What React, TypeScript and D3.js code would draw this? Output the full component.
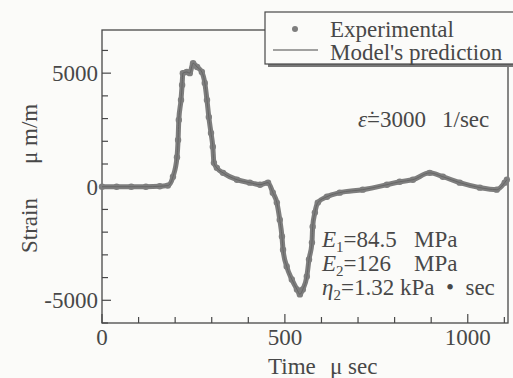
import React, { useEffect, useRef } from 'react';
import * as d3 from 'd3';

// time (μsec) / strain (μm/m)
const timeUs = [0, 40, 80, 120, 158, 180, 194, 205, 208, 210, 216, 219, 221, 232, 240, 249, 260, 273, 281, 287, 292, 298, 303, 306, 314, 331, 369, 404, 432, 454, 467, 478, 486, 492, 495, 505, 519, 533, 541, 549, 560, 566, 574, 576, 582, 590, 615, 650, 713, 779, 814, 850, 896, 932, 978, 1033, 1079, 1101, 1107];
const strain = [0, 0, 0, 0, 20, 50, 440, 1300, 2060, 2940, 3820, 4480, 5000, 5050, 5000, 5440, 5270, 5050, 4570, 3820, 3070, 2370, 1760, 1050, 830, 610, 310, 180, 90, 180, -260, -700, -1450, -2190, -2770, -3510, -4080, -4520, -4740, -4520, -3950, -3200, -2460, -1760, -1140, -700, -440, -260, -130, 90, 220, 310, 610, 440, 180, -40, -130, 180, 310];

const xTicks = d3.range(0, 1101, 100);
const xLabels = [0, 500, 1000];
const yTicks = d3.range(-6000, 6001, 1000);
const yLabels = [-5000, 0, 5000];

const W = 513;
const H = 378;
const INK = '#484848';
const CURVE = '#7e7e7e';
const FONT = "'Liberation Serif', 'Times New Roman', serif";

const App: React.FC = () => {
  const svgRef = useRef<SVGSVGElement | null>(null);

  useEffect(() => {
    if (!svgRef.current) return;
    const svg = d3.select(svgRef.current);
    svg.selectAll('*').remove();

    const x = d3.scaleLinear().domain([0, 1110]).range([102, 508]);
    const y = d3.scaleLinear().domain([-6000, 6900]).range([323, 30]);

    svg.append('rect').attr('width', W).attr('height', H).attr('fill', '#fbfbf9');

    const g = svg.append('g').style('font-family', FONT).attr('fill', INK);

    // frame
    g.append('rect')
      .attr('x', x(0)).attr('y', y(6900))
      .attr('width', x(1110) - x(0)).attr('height', y(-6000) - y(6900))
      .attr('fill', 'none').attr('stroke', INK).attr('stroke-width', 1.3);

    // ticks (inward)
    g.selectAll('.xt').data(xTicks).enter().append('line')
      .attr('x1', d => x(d)).attr('x2', d => x(d))
      .attr('y1', y(-6000)).attr('y2', d => y(-6000) - (d % 500 === 0 ? 9 : 6))
      .attr('stroke', INK).attr('stroke-width', 1.2);
    g.selectAll('.yt').data(yTicks).enter().append('line')
      .attr('y1', d => y(d)).attr('y2', d => y(d))
      .attr('x1', x(0)).attr('x2', d => x(0) + (d % 5000 === 0 ? 9 : 6))
      .attr('stroke', INK).attr('stroke-width', 1.2);

    g.selectAll('.xl').data(xLabels).enter().append('text')
      .attr('x', d => x(d)).attr('y', 345).attr('text-anchor', 'middle')
      .attr('font-size', 23).text(d => d);
    g.selectAll('.yl').data(yLabels).enter().append('text')
      .attr('x', x(0) - 4).attr('y', d => y(d) + 8).attr('text-anchor', 'end')
      .attr('font-size', 23).text(d => d);

    // axis titles
    g.append('text').attr('x', 268).attr('y', 374).attr('font-size', 23).text('Time');
    g.append('text').attr('x', 330).attr('y', 374).attr('font-size', 23).text('\u03bc sec');
    g.append('text').attr('transform', 'translate(37,253) rotate(-90)').attr('font-size', 23).text('Strain');
    g.append('text').attr('transform', 'translate(37,164) rotate(-90)').attr('font-size', 23).text('\u03bc m/m');

    // curve: experimental band + dots, model line
    const pts: [number, number][] = timeUs.map((t, i) => [t, strain[i]]);
    const line = d3.line<[number, number]>().x(d => x(d[0])).y(d => y(d[1])).curve(d3.curveMonotoneX);
    g.append('path').datum(pts).attr('d', line).attr('fill', 'none')
      .attr('stroke', CURVE).attr('stroke-width', 5).attr('stroke-linejoin', 'round');
    g.selectAll('.dot').data(pts).enter().append('circle')
      .attr('cx', d => x(d[0])).attr('cy', d => y(d[1])).attr('r', 3.2)
      .attr('fill', CURVE);
    g.append('path').datum(pts).attr('d', line).attr('fill', 'none')
      .attr('stroke', '#666').attr('stroke-width', 1);

    // annotations
    const eps = g.append('text').attr('x', 426).attr('y', 127).attr('font-size', 23)
      .attr('text-anchor', 'end');
    eps.append('tspan').attr('font-style', 'italic').text('\u03b5\u0307');
    eps.append('tspan').text('=3000');
    g.append('text').attr('x', 442).attr('y', 127).attr('font-size', 23).text('1/sec');

    const params = [
      { sym: 'E', sub: '1', rest: '=84.5   MPa', yy: 247 },
      { sym: 'E', sub: '2', rest: '=126    MPa', yy: 271 },
      { sym: '\u03b7', sub: '2', rest: '=1.32 kPa  \u2022  sec', yy: 295 },
    ];
    params.forEach(p => {
      const t = g.append('text').attr('x', 322).attr('y', p.yy).attr('font-size', 23)
        .style('white-space', 'pre');
      t.append('tspan').attr('font-style', 'italic').text(p.sym);
      t.append('tspan').attr('font-size', 15).attr('dy', 5).text(p.sub);
      t.append('tspan').attr('dy', -5).text(p.rest);
    });

    // legend
    const lg = g.append('g');
    lg.append('rect').attr('x', 268).attr('y', 15).attr('width', 260).attr('height', 52).attr('fill', '#777');
    lg.append('rect').attr('x', 265).attr('y', 12).attr('width', 260).attr('height', 52)
      .attr('fill', '#fbfbf9').attr('stroke', INK).attr('stroke-width', 1.2);
    lg.append('circle').attr('cx', 295).attr('cy', 29).attr('r', 3).attr('fill', CURVE);
    lg.append('text').attr('x', 330).attr('y', 37).attr('font-size', 23).text('Experimental');
    lg.append('line').attr('x1', 273).attr('x2', 318).attr('y1', 50).attr('y2', 50)
      .attr('stroke', INK).attr('stroke-width', 1.2);
    lg.append('text').attr('x', 330).attr('y', 60).attr('font-size', 23).text("Model's prediction");
  }, []);

  return (
    <svg ref={svgRef} width={W} height={H}
      style={{ position: 'absolute', left: 0, top: 0, display: 'block' }} />
  );
};

export default App;
